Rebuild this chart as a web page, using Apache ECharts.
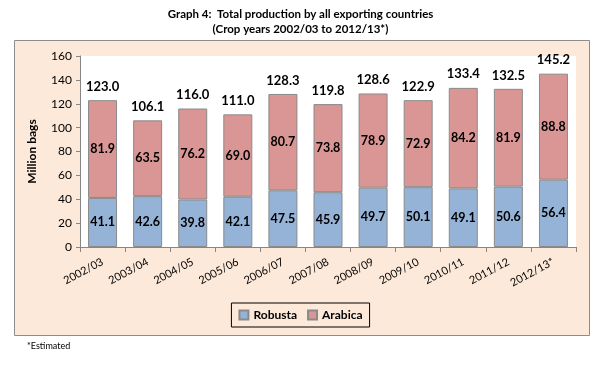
<!DOCTYPE html>
<html><head><meta charset="utf-8">
<script src="https://cdn.jsdelivr.net/npm/echarts@6/dist/echarts.min.js"></script>
<style>html,body{margin:0;padding:0;background:#fff}#c{width:601px;height:375px}</style>
</head><body><div id="c"></div>
<script>
const categories = ['2002/03','2003/04','2004/05','2005/06','2006/07','2007/08','2008/09','2009/10','2010/11','2011/12','2012/13*'];
const robusta = [41.1, 42.6, 39.8, 42.1, 47.5, 45.9, 49.7, 50.1, 49.1, 50.6, 56.4];
const arabica = [81.9, 63.5, 76.2, 69.0, 80.7, 73.8, 78.9, 72.9, 84.2, 81.9, 88.8];
const totals = [123.0, 106.1, 116.0, 111.0, 128.3, 119.8, 128.6, 122.9, 133.4, 132.5, 145.2];

const FONT = 'Lato';
const chart = echarts.init(document.getElementById('c'), null, {renderer: 'canvas'});
const fmt = p => Number(p.value).toFixed(1);
chart.setOption({
  animation: false,
  textStyle: {fontFamily: FONT},
  title: {
    text: 'Graph 4:  Total production by all exporting countries\n(Crop years 2002/03 to 2012/13*)',
    left: 'center', top: 2,
    textStyle: {fontFamily: FONT, fontSize: 11.5, fontWeight: 'bold', color: '#000', lineHeight: 15}
  },
  graphic: [
    {type: 'rect', z: -10, shape: {x: 14.5, y: 40.5, width: 575, height: 295},
     style: {fill: '#FDE9D9', stroke: '#8c8c8c', lineWidth: 1}},
    {type: 'text', left: 27, top: 342, style: {text: '*Estimated', font: '9px ' + FONT, fill: '#000'}}
  ],
  grid: {left: 80, right: 25, top: 56, bottom: 128, show: true, backgroundColor: '#fff', borderWidth: 0},
  legend: {
    data: ['Robusta', 'Arabica'], top: 303, left: 'center',
    borderColor: '#000', borderWidth: 1, padding: [6, 7], itemGap: 10,
    itemWidth: 9, itemHeight: 9, icon: 'rect',
    textStyle: {fontFamily: FONT, fontSize: 12, fontWeight: 'bold', color: '#000'}
  },
  xAxis: {
    type: 'category', data: categories,
    axisLine: {lineStyle: {color: '#868686'}},
    axisTick: {show: true, length: 5, lineStyle: {color: '#868686'}},
    axisLabel: {rotate: 28, fontSize: 11, color: '#000', margin: 14, interval: 0}
  },
  yAxis: {
    type: 'value', min: 0, max: 160, interval: 20,
    name: 'Million bags', nameLocation: 'middle', nameGap: 42, nameRotate: 90,
    nameTextStyle: {fontFamily: FONT, fontSize: 12, fontWeight: 'bold', color: '#000'},
    axisLine: {show: true, lineStyle: {color: '#868686'}},
    axisTick: {show: true, length: 4, lineStyle: {color: '#868686'}},
    splitLine: {show: false},
    axisLabel: {fontSize: 12, color: '#000', margin: 8}
  },
  series: [
    {name: 'Total', type: 'bar', data: totals, barWidth: 29, barGap: '-100%', silent: true, z: 1,
     itemStyle: {color: 'rgba(255,255,255,0)', borderWidth: 0},
     label: {show: true, position: 'top', distance: 7, formatter: fmt, fontFamily: FONT, fontSize: 13, fontWeight: 'bold', color: '#000'}},
    {name: 'Robusta', type: 'bar', stack: 'a', data: robusta, barWidth: 29, z: 2,
     itemStyle: {color: '#95B3D7', borderColor: '#8a8a8a', borderWidth: 1},
     label: {show: true, position: 'inside', formatter: fmt, fontFamily: FONT, fontSize: 12.5, fontWeight: 'bold', color: '#000'}},
    {name: 'Arabica', type: 'bar', stack: 'a', data: arabica, barWidth: 29, z: 2,
     itemStyle: {color: '#D99694', borderColor: '#8a8a8a', borderWidth: 1},
     label: {show: true, position: 'inside', formatter: fmt, fontFamily: FONT, fontSize: 12.5, fontWeight: 'bold', color: '#000'}}
  ]
});
</script></body></html>
